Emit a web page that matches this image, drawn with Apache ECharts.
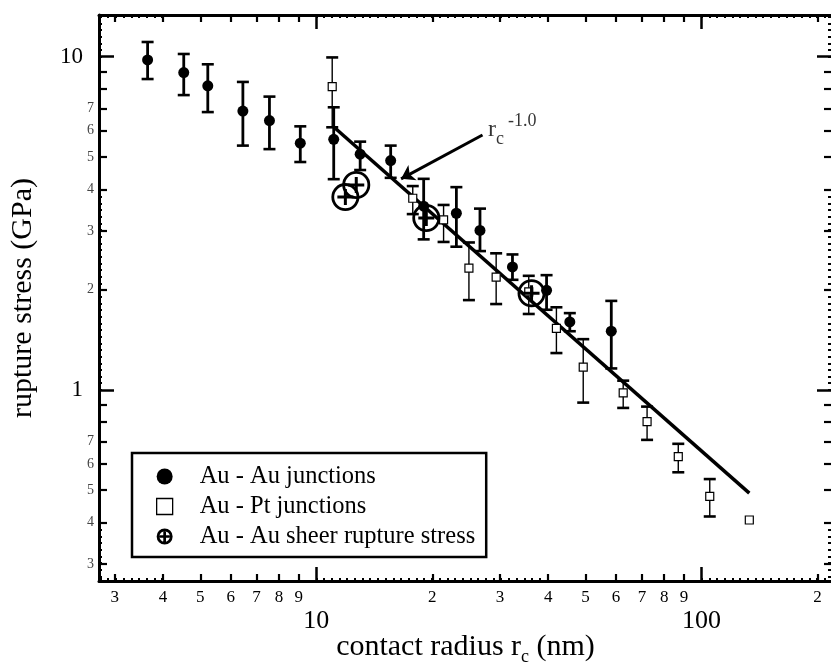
<!DOCTYPE html>
<html><head><meta charset="utf-8">
<script src="https://cdn.jsdelivr.net/npm/echarts@6/dist/echarts.min.js"></script>
<style>html,body{margin:0;padding:0;background:#fff}#c{width:831px;height:666px}</style>
</head><body><div id="c"></div>
<script>
// ---- data ----
const auX  = [3.65, 4.53, 5.23, 6.45, 7.56, 9.09, 11.1, 13.0, 15.6, 19.0, 23.1, 26.6, 32.3, 39.6, 45.5, 58.3];
const auY  = [9.78, 8.96, 8.18, 6.87, 6.43, 5.50, 5.65, 5.10, 4.88, 3.56, 3.39, 3.01, 2.34, 1.99, 1.60, 1.50];
const auLo = [8.57, 7.67, 6.82, 5.41, 5.28, 4.83, 4.29, 4.57, 4.33, 2.83, 2.69, 2.61, 2.14, 1.74, 1.50, 1.16];
const auHi = [11.07,10.19, 9.49, 8.40, 7.59, 6.18, 7.05, 5.56, 5.41, 4.30, 4.06, 3.50, 2.55, 2.21, 1.70, 1.85];

const ptX  = [11.0, 17.8, 21.4, 24.9, 29.3, 35.6, 42.0, 49.3, 62.6, 72.2, 87.0, 105, 133];
const ptY  = [8.13, 3.76, 3.24, 2.32, 2.18, 1.97, 1.53, 1.17, 0.98, 0.803, 0.631, 0.479, 0.407];
const ptLo = [6.14, 3.37, 2.78, 1.86, 1.81, 1.69, 1.29, 0.916, 0.883, 0.708, 0.566, 0.417, null];
const ptHi = [9.95, 4.09, 3.59, 2.77, 2.57, 2.20, 1.77, 1.42, 1.066, 0.891, 0.689, 0.540, null];

const shX = [11.9, 12.7, 19.3, 36.2];
const shY = [3.79, 4.12, 3.28, 1.95];

const fitX = [11.2, 133];
const fitY = [6.1, 0.49];

const arrowX = [27.0, 16.6];
const arrowY = [5.82, 4.30];
const noteX = 27.9, noteY = 6.03;

// ---- axis ticks / labels ----
const xMajor = [10, 100];
const xMinor = [3, 4, 5, 6, 7, 8, 9, 20, 30, 40, 50, 60, 70, 80, 90, 200];
const yMajor = [1, 10];
const yMinorTicks = [0.3, 0.4, 0.5, 0.6, 0.7, 0.8, 0.9, 2, 3, 4, 5, 6, 7, 8, 9];
const yMinorLabels = [0.3, 0.4, 0.5, 0.6, 0.7, 2, 3, 4, 5, 6, 7];

const XMIN = 2.73, XMAX = 218, YMIN = 0.267, YMAX = 13.34;
const FONT = 'Liberation Serif';

function dots(decades, lo, hi) {
  const out = [];
  decades.forEach(d => {
    for (let k = 0; k <= 30; k++) {
      const v = +(d * Math.pow(10, k * 0.02)).toPrecision(6);
      if (v >= lo && v <= hi) out.push(v);
    }
  });
  return out;
}
const xDots = dots([1, 10, 100], XMIN, XMAX);
const yDots = dots([0.1, 1, 10], YMIN, YMAX);

function digit(v) {
  let d = v;
  while (d >= 10) d /= 10;
  while (d < 1) d *= 10;
  return String(Math.round(d));
}

function mkAxis(kind, position, ticks, len, width, labels, labelOpts, extra) {
  const a = {
    type: 'log', logBase: 10, position,
    min: kind === 'x' ? XMIN : YMIN, max: kind === 'x' ? XMAX : YMAX,
    axisLine: { show: false },
    splitLine: { show: false },
    minorTick: { show: false }, minorSplitLine: { show: false },
    axisTick: { show: true, inside: true, length: len, customValues: ticks, lineStyle: { color: '#000', width } },
    axisLabel: labels ? Object.assign({ show: true, customValues: labels, color: '#000', fontFamily: FONT }, labelOpts) : { show: false }
  };
  return Object.assign(a, extra || {});
}

const xAxes = [
  mkAxis('x', 'bottom', xMinor, 7, 2.2, xMinor, { fontSize: 17, margin: 8, formatter: digit }, {
    axisLine: { show: true, lineStyle: { color: '#000', width: 3 } },
    name: 'contact radius r{sub|c} (nm)', nameLocation: 'middle', nameGap: 47,
    nameTextStyle: { fontFamily: FONT, fontSize: 30, color: '#000', lineHeight: 38,
      rich: { sub: { fontFamily: FONT, fontSize: 18, color: '#000', verticalAlign: 'bottom', lineHeight: 38 } } }
  }),
  mkAxis('x', 'bottom', xMajor, 14, 2.5, xMajor, { fontSize: 26, margin: 27, formatter: v => String(Math.round(v)) }),
  mkAxis('x', 'bottom', xDots, 3, 2, null),
  mkAxis('x', 'top', xMinor, 7, 2.2, null, null, { axisLine: { show: true, lineStyle: { color: '#000', width: 3 } } }),
  mkAxis('x', 'top', xMajor, 14, 2.5, null),
  mkAxis('x', 'top', xDots, 3, 2, null)
];
const yAxes = [
  mkAxis('y', 'left', yMinorTicks, 8, 2.2, yMinorLabels, { fontSize: 14, margin: 5, color: '#444', formatter: digit }, {
    axisLine: { show: true, lineStyle: { color: '#000', width: 3 } },
    name: 'rupture stress (GPa)', nameLocation: 'middle', nameGap: 61, nameRotate: 90,
    nameTextStyle: { fontFamily: FONT, fontSize: 30, color: '#000' }
  }),
  mkAxis('y', 'left', yMajor, 15, 2.5, yMajor, { fontSize: 23, margin: 16, formatter: v => String(Math.round(v)) }),
  mkAxis('y', 'left', yDots, 3, 2, null),
  mkAxis('y', 'right', yMinorTicks, 8, 2.2, null),
  mkAxis('y', 'right', yMajor, 15, 2.5, null),
  mkAxis('y', 'right', yDots, 4, 2, null)
];

function errRender(lw, capLw, capW) {
  return function (params, api) {
    const x = api.value(0), lo = api.value(1), hi = api.value(2);
    const a = api.coord([x, lo]), b = api.coord([x, hi]);
    const st = { stroke: '#000', lineWidth: lw };
    const cs = { stroke: '#000', lineWidth: capLw };
    return { type: 'group', children: [
      { type: 'line', shape: { x1: a[0], y1: a[1], x2: b[0], y2: b[1] }, style: st },
      { type: 'line', shape: { x1: a[0] - capW / 2, y1: a[1], x2: a[0] + capW / 2, y2: a[1] }, style: cs },
      { type: 'line', shape: { x1: b[0] - capW / 2, y1: b[1], x2: b[0] + capW / 2, y2: b[1] }, style: cs }
    ] };
  };
}

const SHEER = 'path://M-14,0A14,14,0,1,0,14,0A14,14,0,1,0,-14,0ZM-11.2,0A11.2,11.2,0,1,1,11.2,0A11.2,11.2,0,1,1,-11.2,0ZM-8,-1.5L8,-1.5L8,1.5L-8,1.5ZM-1.5,-8L1.5,-8L1.5,8L-1.5,8Z';
const SHEER_LEG = 'path://M-10,0A10,10,0,1,0,10,0A10,10,0,1,0,-10,0ZM-6.5,0A6.5,6.5,0,1,1,6.5,0A6.5,6.5,0,1,1,-6.5,0ZM-6.5,-1.7L6.5,-1.7L6.5,1.7L-6.5,1.7ZM-1.7,-6.5L1.7,-6.5L1.7,6.5L-1.7,6.5Z';
const SQUARE_LEG = 'path://M0,0L10,0L10,10L0,10Z';

const chart = echarts.init(document.getElementById('c'), null, { renderer: 'canvas' });
chart.setOption({
  backgroundColor: '#fff',
  animation: false,
  grid: { left: 99, top: 15, right: -1, bottom: 85, containLabel: false, outerBoundsMode: 'none' },
  xAxis: xAxes,
  yAxis: yAxes,
  legend: {
    data: [
      { name: 'Au - Au junctions', icon: 'circle' },
      { name: 'Au - Pt junctions', icon: SQUARE_LEG, itemStyle: { color: '#fff', borderColor: '#000', borderWidth: 1.3 } },
      { name: 'Au - Au sheer rupture stress', icon: SHEER_LEG }
    ],
    orient: 'vertical', left: 132, top: 453,
    itemWidth: 16, itemHeight: 16, itemGap: 5,
    padding: [11, 11, 8, 24],
    borderColor: '#000', borderWidth: 2.5, backgroundColor: '#fff',
    textStyle: { fontFamily: FONT, fontSize: 24.5, color: '#000', padding: [0, 0, 0, 22] },
    selectedMode: false
  },
  series: [
    { type: 'custom', name: 'auErr', renderItem: errRender(2.8, 2.6, 12), silent: true, z: 2,
      encode: { x: 0, y: [1, 2] },
      data: auX.map((x, i) => [x, auLo[i], auHi[i]]) },
    { type: 'custom', name: 'ptErr', renderItem: errRender(1.4, 2.6, 12), silent: true, z: 2,
      encode: { x: 0, y: [1, 2] },
      data: ptX.map((x, i) => [x, ptLo[i], ptHi[i]]).filter(d => d[1] != null) },
    { type: 'line', name: 'fit', data: fitX.map((x, i) => [x, fitY[i]]), symbol: 'none',
      lineStyle: { color: '#000', width: 3.5 }, z: 3, silent: true },
    { type: 'lines', coordinateSystem: 'cartesian2d', silent: true, z: 4,
      symbol: ['none', 'arrow'], symbolSize: 13,
      lineStyle: { color: '#000', width: 3, opacity: 1 },
      data: [{ coords: arrowX.map((x, i) => [x, arrowY[i]]) }] },
    { type: 'scatter', name: 'Au - Au junctions', symbol: 'circle', symbolSize: 11, z: 5,
      itemStyle: { color: '#000', opacity: 1 }, data: auX.map((x, i) => [x, auY[i]]) },
    { type: 'scatter', name: 'Au - Pt junctions', symbol: 'rect', symbolSize: 8, z: 5,
      itemStyle: { color: '#fff', borderColor: '#000', borderWidth: 1.2, opacity: 1 }, data: ptX.map((x, i) => [x, ptY[i]]) },
    { type: 'scatter', name: 'Au - Au sheer rupture stress', symbol: SHEER, symbolSize: 28, z: 6,
      itemStyle: { color: '#000', opacity: 1 }, data: shX.map((x, i) => [x, shY[i]]) },
    { type: 'scatter', name: 'note', symbolSize: 0, silent: true, z: 7, data: [[noteX, noteY]],
      label: { show: true, position: 'right', distance: 0, formatter: '{r|r}{c|c}{s|-1.0}',
        rich: {
          r: { fontFamily: FONT, fontSize: 24, color: '#000', lineHeight: 36 },
          c: { fontFamily: FONT, fontSize: 18, color: '#000', verticalAlign: 'bottom', lineHeight: 36 },
          s: { fontFamily: FONT, fontSize: 18, color: '#000', verticalAlign: 'top', lineHeight: 36, padding: [0, 0, 0, 4] }
        } } }
  ]
});
</script></body></html>
